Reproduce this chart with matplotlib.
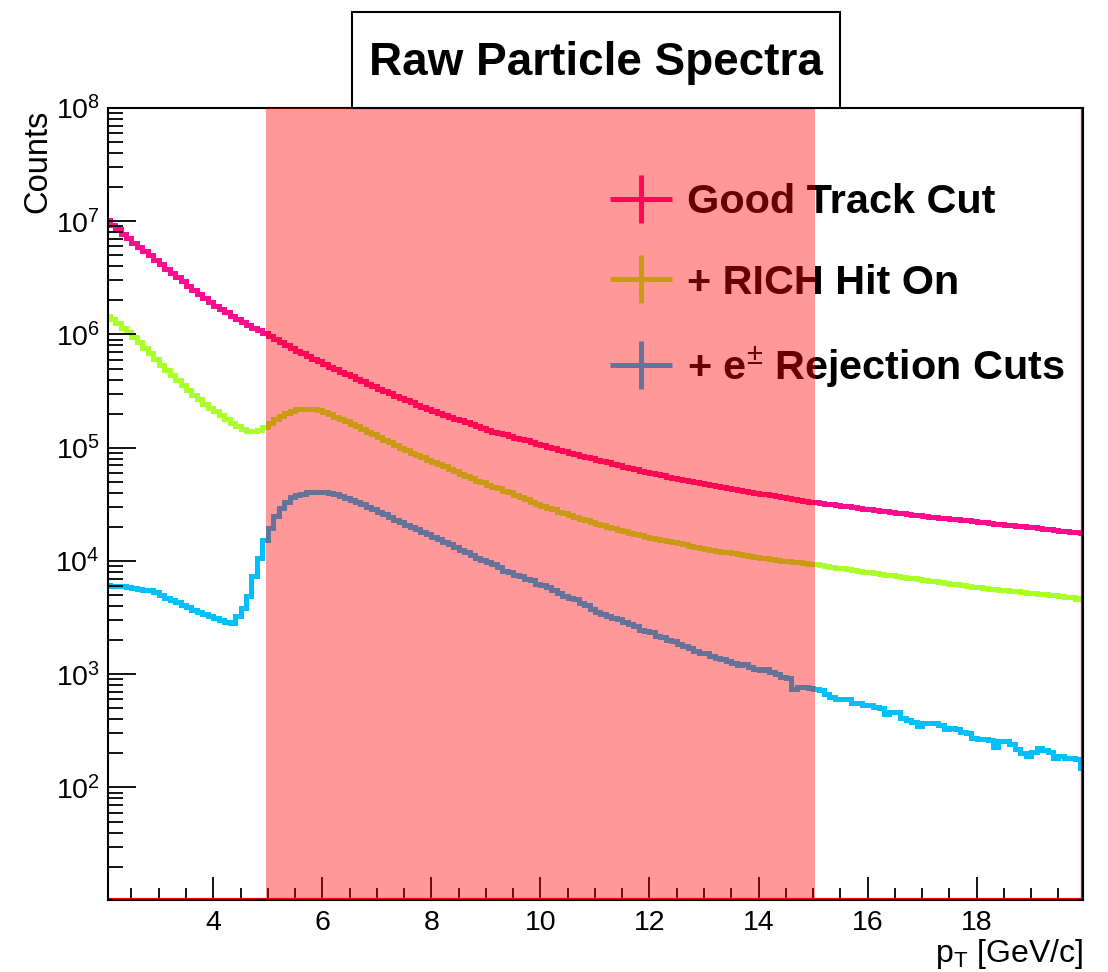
import numpy as np
import matplotlib
matplotlib.use("Agg")
import matplotlib.pyplot as plt
from matplotlib.lines import Line2D
from matplotlib.legend_handler import HandlerTuple
from matplotlib.patches import Rectangle
from matplotlib.ticker import (FixedLocator, LogLocator, LogFormatterMathtext,
                               MultipleLocator, NullFormatter)

plt.rcParams['font.family'] = ['Liberation Sans', 'DejaVu Sans']
plt.rcParams['mathtext.fontset'] = 'custom'
plt.rcParams['mathtext.rm'] = 'Liberation Sans'
plt.rcParams['mathtext.it'] = 'Liberation Sans:italic'
plt.rcParams['mathtext.bf'] = 'Liberation Sans:bold'

# histogram binning: pT from 2 to 20 GeV/c in 0.1 bins
pt_start = 2.0
bin_width = 0.1

# raw counts per bin (one row = 1 GeV/c)
good_track = [
    1.02e7, 9.33e6, 8.51e6, 7.76e6, 7.08e6, 6.46e6, 5.89e6, 5.43e6, 5.01e6, 4.57e6,
    4.17e6, 3.80e6, 3.51e6, 3.20e6, 2.95e6, 2.69e6, 2.48e6, 2.29e6, 2.11e6, 1.95e6,
    1.80e6, 1.68e6, 1.57e6, 1.46e6, 1.36e6, 1.28e6, 1.21e6, 1.15e6, 1.09e6, 1.03e6,
    9.70e5, 9.14e5, 8.61e5, 8.11e5, 7.64e5, 7.21e5, 6.82e5, 6.46e5, 6.11e5, 5.78e5,
    5.48e5, 5.21e5, 4.95e5, 4.71e5, 4.48e5, 4.26e5, 4.05e5, 3.85e5, 3.66e5, 3.48e5,
    3.31e5, 3.16e5, 3.02e5, 2.88e5, 2.75e5, 2.63e5, 2.51e5, 2.40e5, 2.29e5, 2.19e5,
    2.10e5, 2.02e5, 1.95e5, 1.88e5, 1.81e5, 1.75e5, 1.68e5, 1.61e5, 1.55e5, 1.49e5,
    1.44e5, 1.39e5, 1.35e5, 1.31e5, 1.26e5, 1.23e5, 1.19e5, 1.16e5, 1.12e5, 1.09e5,
    1.05e5, 1.02e5, 9.89e4, 9.57e4, 9.27e4, 8.99e4, 8.75e4, 8.51e4, 8.28e4, 8.05e4,
    7.83e4, 7.62e4, 7.41e4, 7.21e4, 7.02e4, 6.82e4, 6.64e4, 6.46e4, 6.28e4, 6.11e4,
    5.96e4, 5.82e4, 5.69e4, 5.56e4, 5.43e4, 5.31e4, 5.19e4, 5.07e4, 4.95e4, 4.84e4,
    4.74e4, 4.66e4, 4.57e4, 4.49e4, 4.41e4, 4.33e4, 4.25e4, 4.17e4, 4.09e4, 4.02e4,
    3.94e4, 3.87e4, 3.80e4, 3.73e4, 3.66e4, 3.60e4, 3.53e4, 3.47e4, 3.40e4, 3.34e4,
    3.29e4, 3.24e4, 3.20e4, 3.16e4, 3.11e4, 3.07e4, 3.03e4, 2.99e4, 2.94e4, 2.90e4,
    2.86e4, 2.82e4, 2.79e4, 2.75e4, 2.71e4, 2.67e4, 2.64e4, 2.60e4, 2.56e4, 2.53e4,
    2.50e4, 2.47e4, 2.44e4, 2.41e4, 2.38e4, 2.36e4, 2.33e4, 2.30e4, 2.28e4, 2.25e4,
    2.22e4, 2.19e4, 2.16e4, 2.13e4, 2.10e4, 2.08e4, 2.06e4, 2.04e4, 2.02e4, 2.00e4,
    1.98e4, 1.95e4, 1.93e4, 1.90e4, 1.87e4, 1.85e4, 1.83e4, 1.81e4, 1.79e4, 1.77e4,
]

rich_hit = [
    1.46e6, 1.36e6, 1.26e6, 1.15e6, 1.05e6, 9.44e5, 8.51e5, 7.59e5, 6.84e5, 6.10e5,
    5.43e5, 4.84e5, 4.37e5, 3.94e5, 3.55e5, 3.24e5, 2.95e5, 2.69e5, 2.45e5, 2.26e5,
    2.09e5, 1.93e5, 1.78e5, 1.66e5, 1.55e5, 1.46e5, 1.41e5, 1.40e5, 1.43e5, 1.51e5,
    1.64e5, 1.78e5, 1.91e5, 2.02e5, 2.11e5, 2.18e5, 2.21e5, 2.21e5, 2.19e5, 2.14e5,
    2.07e5, 1.97e5, 1.88e5, 1.80e5, 1.72e5, 1.62e5, 1.55e5, 1.46e5, 1.38e5, 1.32e5,
    1.24e5, 1.17e5, 1.12e5, 1.06e5, 1.00e5, 9.55e4, 9.02e4, 8.61e4, 8.22e4, 7.85e4,
    7.50e4, 7.16e4, 6.84e4, 6.46e4, 6.17e4, 5.89e4, 5.62e4, 5.37e4, 5.13e4, 4.95e4,
    4.73e4, 4.52e4, 4.37e4, 4.17e4, 4.03e4, 3.85e4, 3.67e4, 3.51e4, 3.35e4, 3.20e4,
    3.09e4, 2.95e4, 2.85e4, 2.72e4, 2.63e4, 2.54e4, 2.45e4, 2.37e4, 2.29e4, 2.21e4,
    2.14e4, 2.07e4, 2.00e4, 1.95e4, 1.88e4, 1.84e4, 1.78e4, 1.74e4, 1.68e4, 1.64e4,
    1.60e4, 1.57e4, 1.53e4, 1.50e4, 1.46e4, 1.43e4, 1.40e4, 1.36e4, 1.33e4, 1.30e4,
    1.28e4, 1.26e4, 1.23e4, 1.21e4, 1.19e4, 1.17e4, 1.15e4, 1.13e4, 1.11e4, 1.09e4,
    1.07e4, 1.06e4, 1.04e4, 1.03e4, 1.01e4, 1.00e4, 9.86e3, 9.72e3, 9.59e3, 9.46e3,
    9.33e3, 9.18e3, 9.04e3, 8.89e3, 8.75e3, 8.61e3, 8.47e3, 8.34e3, 8.20e3, 8.07e3,
    7.94e3, 7.82e3, 7.69e3, 7.59e3, 7.46e3, 7.35e3, 7.24e3, 7.13e3, 7.01e3, 6.92e3,
    6.81e3, 6.70e3, 6.61e3, 6.50e3, 6.40e3, 6.31e3, 6.21e3, 6.11e3, 6.03e3, 5.93e3,
    5.85e3, 5.78e3, 5.71e3, 5.64e3, 5.57e3, 5.51e3, 5.44e3, 5.38e3, 5.32e3, 5.26e3,
    5.20e3, 5.14e3, 5.08e3, 5.02e3, 4.97e3, 4.91e3, 4.85e3, 4.79e3, 4.62e3, 4.73e3,
]

e_rejection = [
    6.10e3, 6.05e3, 6.00e3, 5.96e3, 5.92e3, 5.78e3, 5.69e3, 5.60e3, 5.56e3, 5.31e3,
    5.01e3, 4.73e3, 4.52e3, 4.37e3, 4.12e3, 3.89e3, 3.72e3, 3.55e3, 3.39e3, 3.24e3,
    3.13e3, 3.02e3, 2.88e3, 2.85e3, 3.24e3, 3.86e3, 4.90e3, 7.35e3, 1.07e4, 1.53e4,
    1.96e4, 2.48e4, 2.95e4, 3.31e4, 3.69e4, 3.85e4, 3.94e4, 4.03e4, 4.07e4, 4.07e4,
    4.03e4, 3.96e4, 3.87e4, 3.76e4, 3.63e4, 3.47e4, 3.31e4, 3.16e4, 2.99e4, 2.85e4,
    2.72e4, 2.60e4, 2.45e4, 2.32e4, 2.19e4, 2.09e4, 2.00e4, 1.91e4, 1.80e4, 1.72e4,
    1.62e4, 1.55e4, 1.46e4, 1.40e4, 1.32e4, 1.26e4, 1.19e4, 1.14e4, 1.07e4, 1.02e4,
    9.77e3, 9.33e3, 8.91e3, 8.22e3, 7.94e3, 7.59e3, 7.33e3, 7.00e3, 6.76e3, 6.31e3,
    6.10e3, 5.89e3, 5.50e3, 5.25e3, 4.90e3, 4.73e3, 4.62e3, 4.27e3, 4.07e3, 3.80e3,
    3.55e3, 3.39e3, 3.24e3, 3.16e3, 3.05e3, 2.88e3, 2.75e3, 2.69e3, 2.48e3, 2.43e3,
    2.34e3, 2.19e3, 2.14e3, 2.02e3, 1.95e3, 1.86e3, 1.76e3, 1.70e3, 1.62e3, 1.55e3,
    1.53e3, 1.45e3, 1.38e3, 1.35e3, 1.30e3, 1.26e3, 1.20e3, 1.22e3, 1.15e3, 1.11e3,
    1.08e3, 1.12e3, 1.05e3, 1.01e3, 955, 933, 735, 776, 767, 759,
    745, 724, 664, 631, 608, 608, 603, 562, 556, 537,
    537, 513, 501, 447, 462, 462, 413, 398, 378, 348,
    368, 368, 368, 355, 326, 333, 331, 309, 302, 275,
    266, 266, 263, 229, 257, 257, 240, 217, 200, 189,
    204, 224, 214, 204, 181, 189, 181, 182, 180, 150,
]

labels = ['Good Track Cut', '+ RICH Hit On', r'+ e$^{\pm}$ Rejection Cuts']
colors = ['#ff0d8e', '#aaff28', '#00bfff']
window = (4.96, 15.03)
decades = [1e2, 1e3, 1e4, 1e5, 1e6, 1e7, 1e8]

series = [good_track, rich_hit, e_rejection]
edges = np.round(pt_start + bin_width * np.arange(len(good_track) + 1), 2)

fig = plt.figure(figsize=(11.08, 9.72), dpi=100)
ax = fig.add_axes([108 / 1108, 1 - 900 / 972, 975 / 1108, 792 / 972])

for vals, col in zip(series, colors):
    ax.stairs(vals, edges, color=col, linewidth=3.6, baseline=None)

ax.set_yscale('log')
ax.set_xlim(2.07, 19.95)
ax.set_ylim(10.15, 1e8)

ax.xaxis.set_major_locator(MultipleLocator(2))
ax.xaxis.set_minor_locator(MultipleLocator(0.5))
ax.yaxis.set_major_locator(FixedLocator(decades))
ax.yaxis.set_major_formatter(LogFormatterMathtext())
ax.yaxis.set_minor_locator(LogLocator(base=10, subs=np.arange(2, 10)))
ax.yaxis.set_minor_formatter(NullFormatter())

ax.tick_params(axis='both', which='both', direction='in', top=False, right=False,
               width=1.3, labelsize=20.5)
ax.tick_params(axis='y', which='major', length=20, pad=6)
ax.tick_params(axis='y', which='minor', length=11)
ax.tick_params(axis='x', which='major', length=16.5, pad=7)
ax.tick_params(axis='x', which='minor', length=8.5)
for sp in ax.spines.values():
    sp.set_linewidth(1.5)

# thin red frame line just inside the bottom and right edges
ax.plot([0, 1 - 1.8 / 975, 1 - 1.8 / 975], [1.8 / 792, 1.8 / 792, 1],
        transform=ax.transAxes, color='red', lw=0.9, zorder=2.4, clip_on=False)

ax.set_xlabel(r'p$_{\mathrm{T}}$ [GeV/c]', fontsize=23, loc='right')
ax.xaxis.set_label_coords(1.0, -0.047)
ax.xaxis.label.set_va('top')
ax.set_ylabel('Counts', fontsize=23.5, loc='top')
ax.yaxis.set_label_coords(-0.056, 0.998)

# legend with cross-shaped keys, like error-bar markers
handles = []
for col in colors:
    h = Line2D([], [], ls='none', marker='_', markersize=45, mew=3.6, color=col)
    v = Line2D([], [], ls='none', marker='|', markersize=35, mew=3.6, color=col)
    handles.append((h, v))
leg = ax.legend(handles, labels, handler_map={tuple: HandlerTuple(ndivide=1)},
                loc='upper left', bbox_to_anchor=(0.514, 0.905), frameon=False,
                prop={'weight': 'bold', 'size': 29.8}, handlelength=1.55,
                handletextpad=0.33, labelspacing=1.03, borderpad=0, borderaxespad=0)

# translucent red band for the selected pT window, drawn over everything
ax.axvspan(window[0], window[1], color='red', alpha=0.4, lw=0, zorder=10)

# title box
fig.patches.append(Rectangle((352 / 1108, 1 - 108 / 972), 488 / 1108, 96 / 972,
                             transform=fig.transFigure, facecolor='white',
                             edgecolor='black', lw=1.5, zorder=5))
fig.text(596 / 1108, 1 - 75 / 972, 'Raw Particle Spectra', ha='center', va='baseline',
         fontsize=33, fontweight='bold', zorder=6)

fig.savefig('out.png', dpi=100)
